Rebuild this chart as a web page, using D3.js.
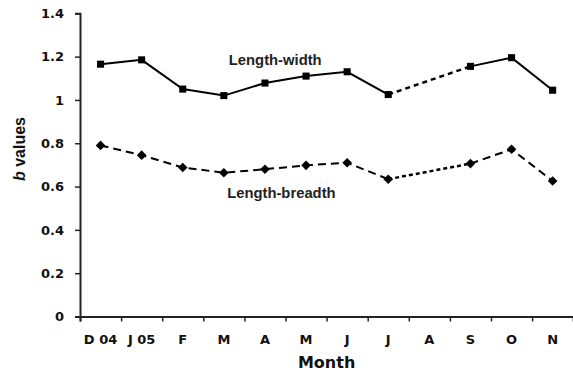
<!DOCTYPE html>
<html>
<head>
<meta charset="utf-8">
<script src="https://cdn.jsdelivr.net/npm/d3@7"></script>
<style>
  body { margin: 0; background: #fff; }
  svg { display: block; }
  .tick text { font-family: "DejaVu Sans", sans-serif; font-weight: bold; font-size: 13px; fill: #111; }
</style>
</head>
<body>
<div id="chart"></div>
<script>
// Chart values
const months = ['D 04', 'J 05', 'F', 'M', 'A', 'M', 'J', 'J', 'A', 'S', 'O', 'N'];
const lengthWidth = [1.165, 1.185, 1.05, 1.02, 1.078, 1.11, 1.13, 1.025, null, 1.155, 1.195, 1.045];
const lengthBreadth = [0.79, 0.745, 0.688, 0.664, 0.68, 0.698, 0.71, 0.634, null, 0.706, 0.772, 0.626];
const yTicks = [0, 0.2, 0.4, 0.6, 0.8, 1, 1.2, 1.4];

// Dimensions
const W = 573, H = 374;
const plotLeft = 80, plotTop = 13.3, plotBottom = 316.5;

const svg = d3.select('#chart')
  .append('svg')
  .attr('width', W)
  .attr('height', H);

// Scales: x runs over category slots, points sit in slot centres
const x = d3.scaleLinear().domain([0, months.length]).range([plotLeft, plotLeft + 41.1 * months.length]);
const y = d3.scaleLinear().domain([0, 1.4]).range([plotBottom, plotTop]);

// Axes
svg.append('g')
  .attr('transform', 'translate(' + plotLeft + ',0)')
  .call(d3.axisLeft(y).tickValues(yTicks).tickSize(5).tickPadding(11)
    .tickFormat(d => d === 0 || d === 1 ? d3.format('d')(d) : d3.format('.1f')(d)))
  .call(g => g.select('.domain').attr('stroke', '#222').attr('stroke-width', 2))
  .call(g => g.selectAll('.tick line').attr('stroke', '#222').attr('stroke-width', 1.5));

svg.append('g')
  .attr('transform', 'translate(0,' + plotBottom + ')')
  .call(d3.axisBottom(x).tickValues(d3.range(0, months.length + 1)).tickSize(5).tickFormat(''))
  .call(g => g.select('.domain').attr('stroke', '#222').attr('stroke-width', 2))
  .call(g => g.selectAll('.tick line').attr('stroke', '#222').attr('stroke-width', 1.5));

// Month labels in slot centres
svg.append('g')
  .selectAll('text')
  .data(months)
  .join('text')
  .attr('x', (d, i) => x(i + 0.5))
  .attr('y', 344)
  .attr('text-anchor', 'middle')
  .style('font-family', '"DejaVu Sans", sans-serif')
  .style('font-weight', 'bold')
  .style('font-size', '13px')
  .style('fill', '#111')
  .text(d => d);

// Axis titles
svg.append('text')
  .attr('x', x(months.length / 2))
  .attr('y', 368)
  .attr('text-anchor', 'middle')
  .style('font-family', '"DejaVu Sans", sans-serif')
  .style('font-weight', 'bold')
  .style('font-size', '16px')
  .style('fill', '#111')
  .text('Month');

const yTitle = svg.append('text')
  .attr('transform', 'translate(25,149) rotate(-90)')
  .attr('text-anchor', 'middle')
  .style('font-family', '"Liberation Sans", Arial, sans-serif')
  .style('font-weight', 'bold')
  .style('font-size', '16px')
  .style('fill', '#111');
yTitle.append('tspan').style('font-style', 'italic').text('b');
yTitle.append('tspan').text(' values');

// Draw one series: main line, gap line over missing month, markers
function drawSeries(values, mainDash, gapDash, marker) {
  const pts = values.map((v, i) => ({ i: i, v: v }));
  const line = d3.line()
    .defined(d => d.v !== null)
    .x(d => x(d.i + 0.5))
    .y(d => y(d.v));

  // gap segments: join the points on either side of a missing month
  const gaps = [];
  pts.forEach((d, k) => {
    if (d.v === null) {
      const prev = pts.slice(0, k).reverse().find(p => p.v !== null);
      const next = pts.slice(k + 1).find(p => p.v !== null);
      if (prev && next) gaps.push([prev, next]);
    }
  });

  svg.append('g')
    .selectAll('path')
    .data(gaps)
    .join('path')
    .attr('d', d => line(d))
    .attr('fill', 'none')
    .attr('stroke', '#000')
    .attr('stroke-width', 2.5)
    .attr('stroke-dasharray', gapDash);

  svg.append('path')
    .attr('d', line(pts))
    .attr('fill', 'none')
    .attr('stroke', '#000')
    .attr('stroke-width', 2)
    .attr('stroke-dasharray', mainDash);

  svg.append('g')
    .selectAll('path')
    .data(pts.filter(d => d.v !== null))
    .join('path')
    .attr('transform', d => 'translate(' + x(d.i + 0.5) + ',' + y(d.v) + ')')
    .attr('d', marker)
    .attr('fill', '#000');
}

drawSeries(lengthWidth, null, '5,4', d3.symbol(d3.symbolSquare, 50)());
drawSeries(lengthBreadth, '8,5', '4,3', 'M0,-4.8L4.8,0L0,4.8L-4.8,0Z');

// Series labels
svg.append('text')
  .attr('x', x(3.62))
  .attr('y', y(1.16))
  .style('font-family', '"Liberation Sans", Arial, sans-serif')
  .style('font-weight', 'bold')
  .style('font-size', '14.8px')
  .style('fill', '#222')
  .text('Length-width');

svg.append('text')
  .attr('x', x(3.58))
  .attr('y', y(0.545))
  .style('font-family', '"Liberation Sans", Arial, sans-serif')
  .style('font-weight', 'bold')
  .style('font-size', '14.8px')
  .style('fill', '#222')
  .text('Length-breadth');
</script>
</body>
</html>
